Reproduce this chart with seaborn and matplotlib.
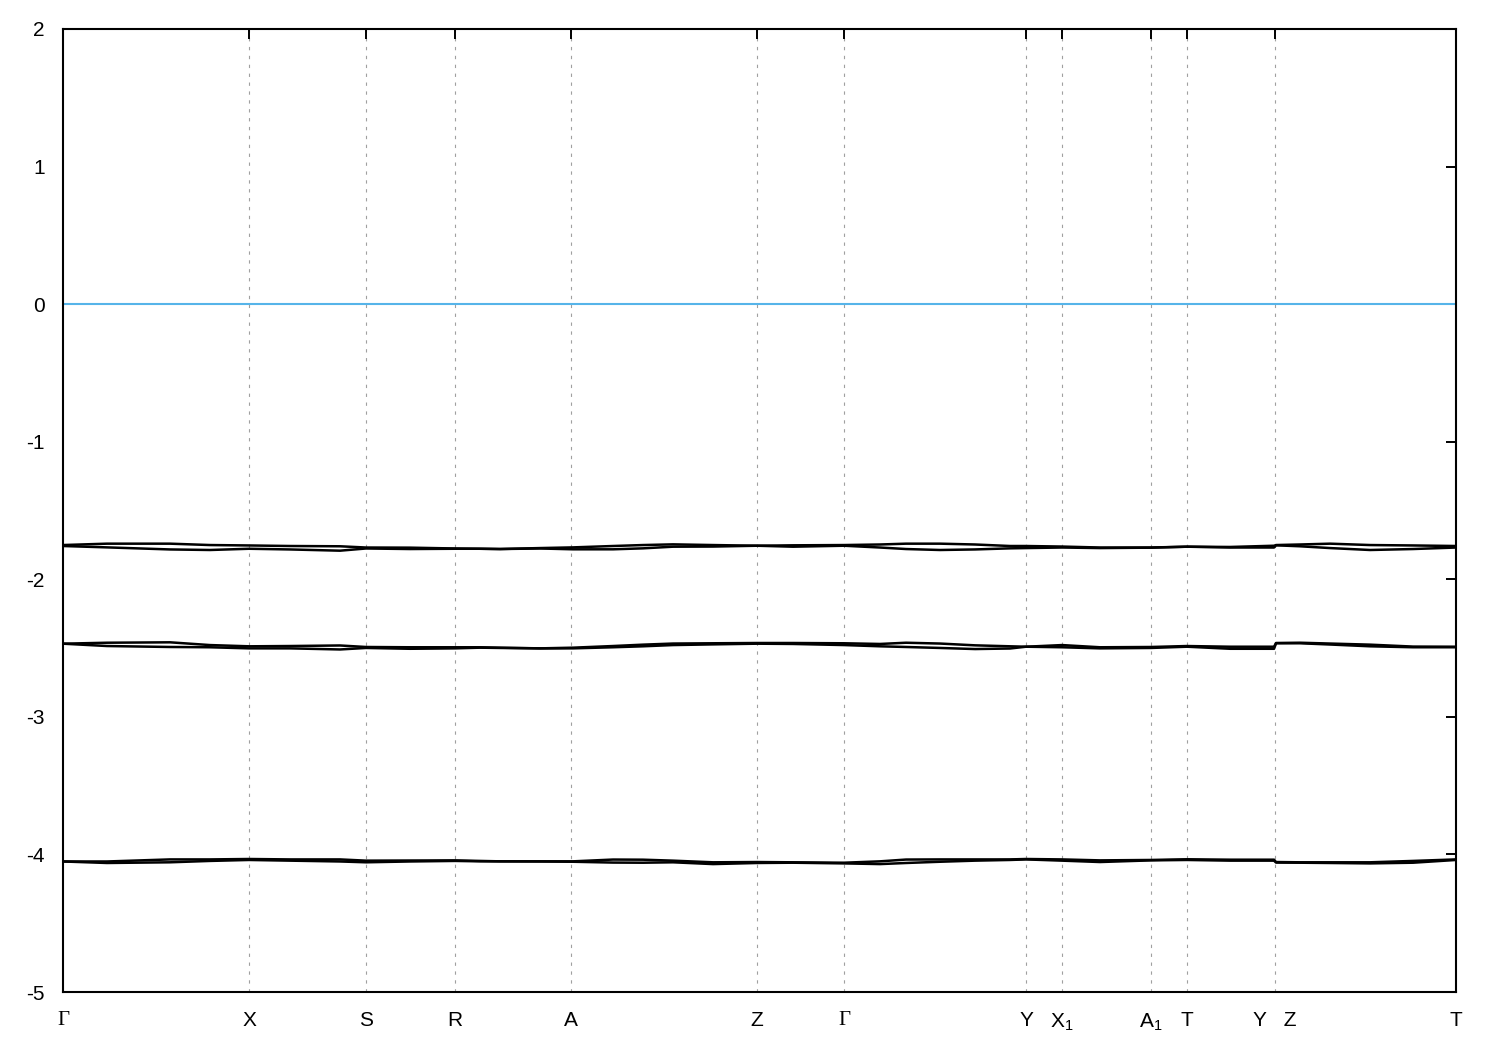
import numpy as np
import pandas as pd
import matplotlib
matplotlib.use("Agg")
import matplotlib.pyplot as plt
import seaborn as sns

# k-path coordinate of each sampled point (arb. units)
k = [0.000, 0.044, 0.107, 0.147, 0.186, 0.227, 0.277, 0.303, 0.347, 0.392,
     0.417, 0.437, 0.477, 0.510, 0.550, 0.580, 0.610, 0.650, 0.694, 0.730,
     0.781, 0.817, 0.843, 0.877, 0.912, 0.947, 0.963, 0.999, 1.037, 1.088,
     1.124, 1.167, 1.211, 1.213, 1.237, 1.267, 1.307, 1.350, 1.393]

# high-symmetry points
kpts = [0.000, 0.186, 0.303, 0.392, 0.508, 0.694, 0.781, 0.963, 0.999,
        1.088, 1.124, 1.212, 1.393]
klabels = ["Γ", "X", "S", "R", "A", "Z", "Γ", "Y", r"X$_\mathrm{1}$",
           r"A$_\mathrm{1}$", "T", "Y   Z", "T"]

# band energies (eV)
band1 = [-1.751, -1.741, -1.741, -1.751, -1.754, -1.758, -1.760, -1.769, -1.770, -1.776,
         -1.778, -1.780, -1.773, -1.768, -1.758, -1.751, -1.746, -1.751, -1.756, -1.753,
         -1.751, -1.747, -1.741, -1.741, -1.747, -1.758, -1.758, -1.762, -1.769, -1.769,
         -1.763, -1.765, -1.756, -1.751, -1.747, -1.741, -1.751, -1.754, -1.758]
band2 = [-1.758, -1.768, -1.783, -1.787, -1.778, -1.783, -1.792, -1.776, -1.780, -1.778,
         -1.778, -1.780, -1.776, -1.782, -1.782, -1.775, -1.763, -1.762, -1.756, -1.763,
         -1.756, -1.769, -1.780, -1.787, -1.783, -1.775, -1.773, -1.769, -1.773, -1.770,
         -1.763, -1.769, -1.769, -1.753, -1.760, -1.773, -1.787, -1.780, -1.769]
band3 = [-2.468, -2.461, -2.458, -2.478, -2.487, -2.485, -2.481, -2.492, -2.494, -2.494,
         -2.494, -2.497, -2.502, -2.497, -2.485, -2.475, -2.467, -2.465, -2.463, -2.463,
         -2.465, -2.470, -2.461, -2.467, -2.480, -2.487, -2.490, -2.478, -2.494, -2.492,
         -2.485, -2.490, -2.490, -2.463, -2.461, -2.467, -2.475, -2.489, -2.490]
band4 = [-2.468, -2.485, -2.492, -2.494, -2.502, -2.502, -2.510, -2.499, -2.505, -2.502,
         -2.497, -2.499, -2.502, -2.502, -2.494, -2.487, -2.478, -2.473, -2.468, -2.470,
         -2.478, -2.487, -2.492, -2.499, -2.507, -2.503, -2.490, -2.494, -2.502, -2.499,
         -2.490, -2.505, -2.505, -2.465, -2.465, -2.474, -2.487, -2.494, -2.494]
band5 = [-4.051, -4.051, -4.036, -4.036, -4.033, -4.036, -4.036, -4.045, -4.044, -4.043,
         -4.047, -4.050, -4.050, -4.050, -4.037, -4.038, -4.045, -4.057, -4.055, -4.057,
         -4.060, -4.050, -4.037, -4.036, -4.036, -4.036, -4.033, -4.036, -4.043, -4.040,
         -4.035, -4.038, -4.038, -4.055, -4.057, -4.057, -4.057, -4.047, -4.036]
band6 = [-4.051, -4.062, -4.057, -4.047, -4.040, -4.045, -4.051, -4.057, -4.051, -4.047,
         -4.050, -4.050, -4.051, -4.053, -4.059, -4.060, -4.057, -4.070, -4.062, -4.060,
         -4.065, -4.070, -4.062, -4.053, -4.045, -4.040, -4.036, -4.045, -4.055, -4.043,
         -4.040, -4.045, -4.045, -4.059, -4.060, -4.062, -4.065, -4.060, -4.040]

bands = [band1, band2, band3, band4, band5, band6]
df = pd.concat([pd.DataFrame({"k": k, "E": b, "band": i}) for i, b in enumerate(bands)])

sns.set_style("white")
plt.rcParams["font.family"] = ["Liberation Sans", "DejaVu Sans"]
plt.rcParams["mathtext.fontset"] = "custom"
plt.rcParams["mathtext.rm"] = "Liberation Sans"
plt.rcParams["axes.unicode_minus"] = False

fig = plt.figure(figsize=(15, 10.5), dpi=100)
ax = fig.add_axes([0.042, 0.0552, 0.9287, 0.9172])

# vertical lines at high-symmetry points
for kp in kpts[1:-1]:
    ax.axvline(kp, color="#a0a0a0", lw=0.8, ls=(0, (3, 5)), zorder=0)

# Fermi level
ax.axhline(0, color="#56B4E9", lw=1.5, zorder=1)

sns.lineplot(data=df, x="k", y="E", units="band", estimator=None,
             color="black", lw=1.8, sort=False, ax=ax, legend=False)

ax.set_xlim(kpts[0], kpts[-1])
ax.set_ylim(-5, 2)
ax.set_xticks(kpts)
ax.set_xticklabels(klabels)
ax.set_yticks(range(-5, 3))
ax.set_xlabel("")
ax.set_ylabel("")
for lab in ax.get_xticklabels():
    if lab.get_text() == "Γ":
        lab.set_family(["Liberation Serif", "DejaVu Serif"])
        lab.set_fontsize(16)

ax.tick_params(direction="in", length=7, width=1.4, top=True, right=True,
               labelsize=15, colors="black")
ax.tick_params(axis="x", pad=14)
ax.tick_params(axis="y", pad=13)
for s in ax.spines.values():
    s.set_linewidth(1.5)
    s.set_color("black")

fig.savefig("out.png", dpi=100)
